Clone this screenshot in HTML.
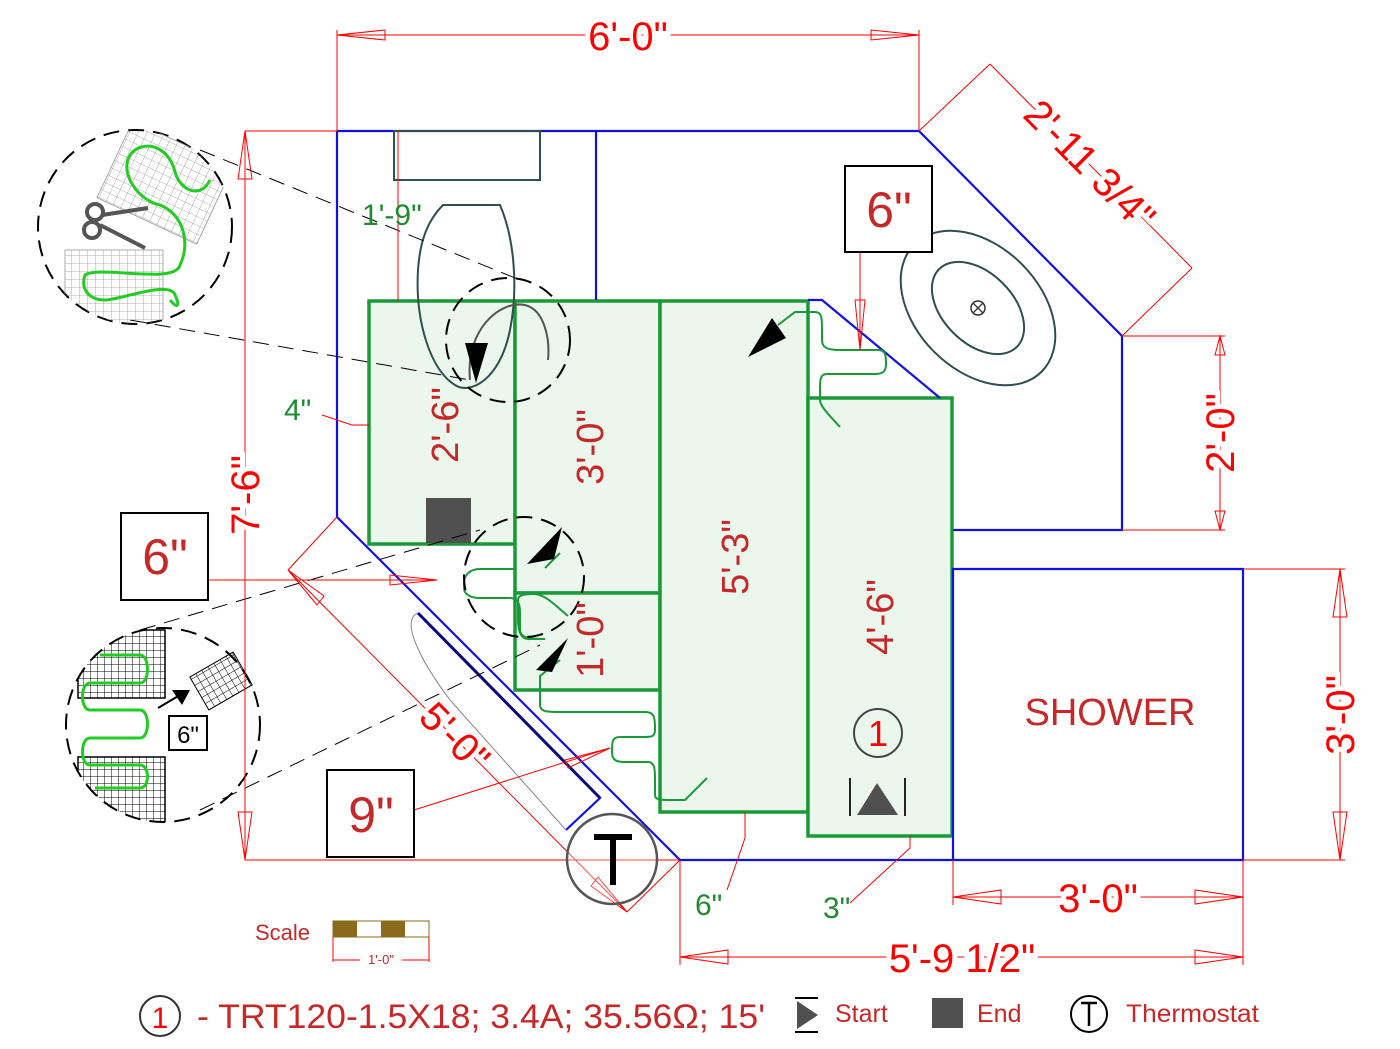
<!DOCTYPE html>
<html><head><meta charset="utf-8"><style>
html,body{margin:0;padding:0;background:#fff;}
svg{display:block;font-family:"Liberation Sans",sans-serif;}
</style></head><body>
<svg width="1400" height="1049" viewBox="0 0 1400 1049" xmlns="http://www.w3.org/2000/svg">
<defs>
<pattern id="g1" width="8" height="8" patternUnits="userSpaceOnUse"><path d="M8 0V8M0 8H8" stroke="#999" stroke-width="0.8" fill="none"/></pattern>
<pattern id="g2" width="7" height="7" patternUnits="userSpaceOnUse"><path d="M7 0V7M0 7H7" stroke="#000" stroke-width="1" fill="none"/></pattern>
<clipPath id="c1"><circle cx="135" cy="227" r="97"/></clipPath>
<clipPath id="c2"><circle cx="163" cy="725" r="97"/></clipPath>
</defs>

<g fill="#ebf6ed" stroke="#1a9a37" stroke-width="3.5">
<rect x="369" y="301" width="146" height="243"/>
<rect x="515" y="301" width="145" height="292"/>
<rect x="515" y="593" width="145" height="97"/>
<rect x="660" y="301" width="148" height="511"/>
<rect x="808" y="398" width="144" height="438"/>
</g>

<g fill="none" stroke="#1010e6" stroke-width="2.2">
<path d="M337 131H919L1122 336V530H953"/>
<path d="M337 131V517L680 860H1243V569H953V860"/>
<path d="M596 131V300"/>
<path d="M808 300H822L940 398"/>
<path d="M418 613L600 798L566 830"/>
</g>
<path d="M418 613L600 798" stroke="#0a0a80" stroke-width="3"/>
<path d="M418 613C400 620 420 660 450 700L566 830" stroke="#888" stroke-width="1" fill="none"/>

<rect x="394" y="131" width="146" height="49" fill="none" stroke="#2f4f4f" stroke-width="2"/>
<path d="M443 205H500C515 240 518 290 510 330C500 380 470 395 455 385C430 370 415 320 418 270C420 240 428 220 443 205Z" fill="none" stroke="#2f4f4f" stroke-width="2"/>
<path d="M470 380C465 330 500 300 525 305C545 310 550 340 548 360" fill="none" stroke="#555" stroke-width="2"/>

<ellipse cx="978" cy="308" rx="90" ry="62" transform="rotate(45 978 308)" fill="none" stroke="#2f4f4f" stroke-width="2"/>
<ellipse cx="978" cy="308" rx="55" ry="35" transform="rotate(45 978 308)" fill="none" stroke="#2f4f4f" stroke-width="2"/>
<circle cx="978" cy="308" r="7" fill="none" stroke="#333" stroke-width="1.5"/>
<path d="M973 303L983 313M983 303L973 313" stroke="#333" stroke-width="1.3"/>

<g fill="none" stroke="#1a9a37" stroke-width="2">
<path d="M515 569H480C470 569 464 575 464 583V588C464 594 470 598 480 598H510C518 598 520 605 520 612V630C520 638 530 639 545 639"/>
<path d="M545 639H530C520 640 518 630 518 618V600C518 595 524 594 534 594C545 594 556 606 568 616"/>
<path d="M545 568L560 553"/>
<path d="M560 660L540 676V705C540 712 548 712 560 712H645C655 712 655 718 655 730C655 738 650 737 640 737H620C612 737 612 742 612 752C612 760 616 762 625 762H648C655 762 655 770 655 780V795C655 800 660 800 672 800H685L707 778"/>
<path d="M778 325L795 312H815C822 312 822 318 822 330V340C822 348 828 350 840 350H878C886 350 886 356 886 364C886 372 882 374 875 374H827C820 374 820 380 820 390V400C820 406 828 414 840 427"/>
</g>
<g fill="#000">
<polygon points="465,343 488,343 476,383"/>
<polygon points="748,357 772,318 786,338"/>
<polygon points="527,564 562,527 554,559"/>
<polygon points="536,670 568,638 552,672"/>
</g>
<rect x="426" y="498" width="45" height="45" fill="#505050"/>

<g fill="none" stroke="#000" stroke-width="2" stroke-dasharray="16,9">
<circle cx="508" cy="340" r="62"/>
<circle cx="524" cy="577" r="60"/>
<circle cx="135" cy="227" r="97"/>
<circle cx="163" cy="725" r="97"/>
</g>
<g stroke="#000" stroke-width="1" stroke-dasharray="16,9">
<path d="M200 150L520 280"/>
<path d="M130 320L470 380"/>
<path d="M140 630L480 530"/>
<path d="M200 810L540 645"/>
</g>

<g clip-path="url(#c1)">
<rect x="110" y="140" width="110" height="85" fill="url(#g1)" transform="rotate(25 165 182)" stroke="#999" stroke-width="0.8"/>
<rect x="65" y="250" width="98" height="75" fill="url(#g1)" stroke="#999" stroke-width="0.8"/>
</g>
<path d="M210 180C200 200 180 190 175 172C170 150 150 140 135 150C115 165 135 200 160 205C185 215 190 245 180 265C175 285 100 265 85 275C80 290 90 300 105 300C120 300 170 280 175 295C180 305 178 310 170 300" fill="none" stroke="#22cc22" stroke-width="3"/>
<g fill="none" stroke="#555" stroke-width="4"><circle cx="95" cy="212" r="8"/><circle cx="92" cy="230" r="8"/><path d="M102 215L148 208M100 225L145 248"/></g>

<g clip-path="url(#c2)">
<rect x="78" y="630" width="87" height="68" fill="url(#g2)" stroke="#000" stroke-width="1.5"/>
<rect x="78" y="757" width="87" height="75" fill="url(#g2)" stroke="#000" stroke-width="1.5"/>
</g>
<rect x="196" y="662" width="50" height="38" fill="url(#g2)" transform="rotate(-30 221 681)" stroke="#000"/>
<path d="M100 655H140C150 655 150 683 140 683H90C80 683 80 710 90 710H140C150 710 150 738 140 738H90C80 738 80 765 90 765H140C150 765 150 788 140 788H95" fill="none" stroke="#22cc22" stroke-width="3"/>
<path d="M158 708L180 695" stroke="#000" stroke-width="2"/><polygon points="172,690 190,690 182,705" fill="#000"/>
<rect x="169" y="716" width="38" height="34" fill="#fff" stroke="#000" stroke-width="2"/>
<text x="188" y="743" font-size="24" text-anchor="middle" fill="#000">6"</text>

<g stroke="#ff0000" stroke-width="1" fill="none">
<path d="M337 30V131M919 30V131M337 35H919"/>
<path d="M919 131L990 64M1122 336L1192 268M990 64L1192 268"/>
<path d="M1122 336H1225M1122 530H1225M1220 336V530"/>
<path d="M1243 569H1345M1243 860H1345M1340 569V860"/>
<path d="M953 860V905M1243 860V965M953 897H1243"/>
<path d="M680 860V965M680 957H1243"/>
<path d="M245 131H337M245 860H680M245 131V860"/>
<path d="M337 517L288 570M680 860L627 912M288 570L627 912"/>
<path d="M208 580H437"/>
<path d="M414 810L610 748"/>
<path d="M860 252V350"/>
<path d="M398 131V301"/>
<path d="M322 415L352 425H369"/>
<path d="M727 890L745 838V812"/>
<path d="M850 903L910 848V836"/>
<polygon points="337,35 385,30 385,40"/><polygon points="919,35 871,30 871,40"/>
<polygon points="1220,336 1215,355 1225,355"/><polygon points="1220,530 1215,511 1225,511"/>
<polygon points="1340,569 1333,617 1347,617"/><polygon points="1340,860 1333,812 1347,812"/>
<polygon points="953,897 1001,890 1001,904"/><polygon points="1243,897 1195,890 1195,904"/>
<polygon points="680,957 728,950 728,964"/><polygon points="1243,957 1195,950 1195,964"/>
<polygon points="245,131 238,179 252,179"/><polygon points="245,860 238,812 252,812"/>
<polygon points="288,570 317,605 324,596"/><polygon points="627,912 598,877 591,886"/>
<polygon points="437,580 390,575 390,585"/>
<polygon points="860,350 855,300 865,300"/>
<polygon points="610,748 565,760 568,768"/>
</g>

<g fill="#ff0000" font-size="40" text-anchor="middle">
<text x="628" y="50" stroke="#fff" stroke-width="10" paint-order="stroke" fill="#ff0000">6'-0"</text>
<text transform="translate(1090,165) rotate(45)" y="14" stroke="#fff" stroke-width="10" paint-order="stroke">2'-11 3/4"</text>
<text transform="translate(1220,433) rotate(-90)" y="14" stroke="#fff" stroke-width="10" paint-order="stroke">2'-0"</text>
<text transform="translate(1340,715) rotate(-90)" y="14" stroke="#fff" stroke-width="10" paint-order="stroke">3'-0"</text>
<text x="1098" y="912" stroke="#fff" stroke-width="10" paint-order="stroke">3'-0"</text>
<text x="962" y="972" stroke="#fff" stroke-width="10" paint-order="stroke">5'-9 1/2"</text>
<text transform="translate(245,495) rotate(-90)" y="14" stroke="#fff" stroke-width="10" paint-order="stroke">7'-6"</text>
<text transform="translate(455,737) rotate(45)" y="14" stroke="#fff" stroke-width="8" paint-order="stroke">5'-0"</text>
</g>
<g fill="#c62828" font-size="38" text-anchor="middle">
<text transform="translate(445,425) rotate(-90)" y="13">2'-6"</text>
<text transform="translate(590,447) rotate(-90)" y="13">3'-0"</text>
<text transform="translate(590,640) rotate(-90)" y="13">1'-0"</text>
<text transform="translate(735,557) rotate(-90)" y="13">5'-3"</text>
<text transform="translate(880,617) rotate(-90)" y="13">4'-6"</text>
<text x="1110" y="725" font-size="38">SHOWER</text>
</g>

<g fill="#fff" stroke="#000" stroke-width="2">
<rect x="121" y="513" width="87" height="87"/>
<rect x="327" y="770" width="87" height="87"/>
<rect x="845" y="166" width="87" height="86"/>
</g>
<g fill="#c62828" font-size="50" text-anchor="middle">
<text x="165" y="574">6"</text>
<text x="371" y="832">9"</text>
<text x="889" y="227">6"</text>
</g>

<g fill="#1e8c2e" font-size="30">
<text x="362" y="225">1'-9"</text>
<text x="284" y="420">4"</text>
<text x="695" y="915">6"</text>
<text x="823" y="918">3"</text>
</g>

<circle cx="878" cy="733" r="24" fill="none" stroke="#444" stroke-width="2"/>
<text x="878" y="746" font-size="36" fill="#ff0000" text-anchor="middle">1</text>
<path d="M850 778V816M905 778V816" stroke="#222" stroke-width="2"/>
<polygon points="857,815 898,815 877,783" fill="#505050"/>

<circle cx="612" cy="859" r="45" fill="#fff" fill-opacity="0.3" stroke="#555" stroke-width="2.5"/>
<path d="M594 837H632M613 837V885" stroke="#000" stroke-width="6"/>

<text x="255" y="940" font-size="22" fill="#c62828">Scale</text>
<rect x="333" y="921" width="96" height="16" fill="#fff" stroke="#8b6a1e"/>
<rect x="333" y="921" width="24" height="16" fill="#8b6a1e"/>
<rect x="381" y="921" width="24" height="16" fill="#8b6a1e"/>
<path d="M333 937V962M429 937V962M333 960H360M402 960H429" stroke="#ff0000" fill="none"/>
<text x="381" y="964" font-size="13" fill="#c62828" text-anchor="middle">1'-0"</text>

<circle cx="160" cy="1016" r="20" fill="none" stroke="#333" stroke-width="2"/>
<text x="160" y="1028" font-size="30" fill="#ff0000" text-anchor="middle">1</text>
<text x="197" y="1028" font-size="34" fill="#c62828" textLength="568" lengthAdjust="spacingAndGlyphs">- TRT120-1.5X18; 3.4A; 35.56Ω; 15'</text>
<path d="M795 998H818M795 1032H818" stroke="#000" stroke-width="2"/>
<polygon points="797,1001 818,1015 797,1029" fill="#505050"/>
<text x="835" y="1022" font-size="25" fill="#c62828">Start</text>
<rect x="932" y="998" width="31" height="30" fill="#505050"/>
<text x="977" y="1022" font-size="25" fill="#c62828">End</text>
<circle cx="1089" cy="1014" r="18" fill="none" stroke="#000" stroke-width="2"/>
<path d="M1081 1003H1097M1089 1003V1026" stroke="#000" stroke-width="2.5"/>
<text x="1126" y="1022" font-size="25" fill="#c62828" textLength="133" lengthAdjust="spacingAndGlyphs">Thermostat</text>
</svg>
</body></html>
